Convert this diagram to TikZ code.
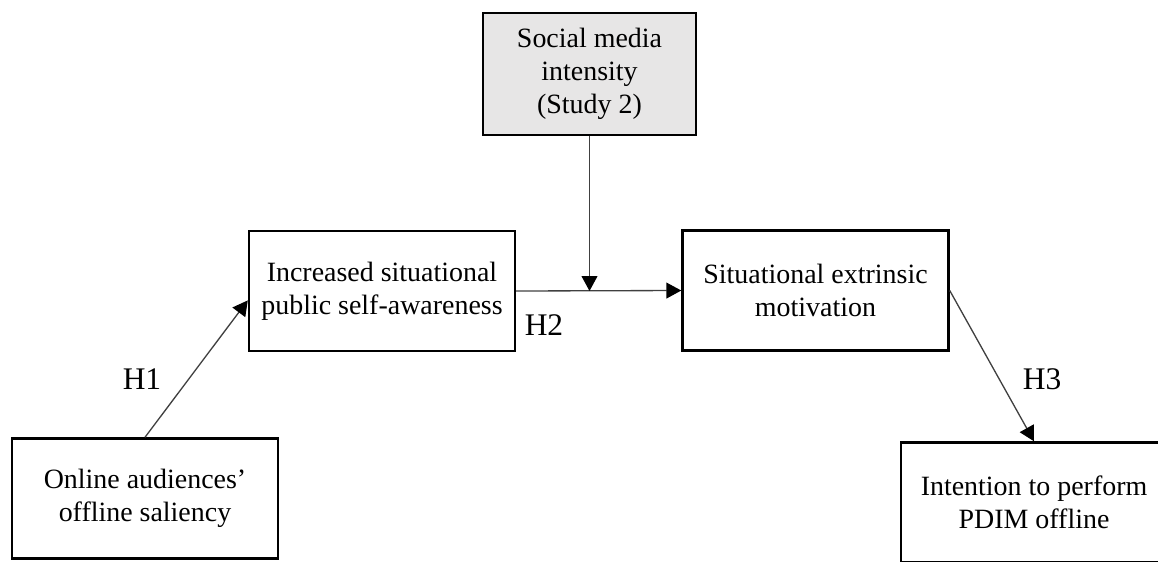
\documentclass[tikz,border=0pt]{standalone}
\usepackage{fontspec}
\setmainfont{Liberation Serif}
\usetikzlibrary{arrows.meta}
\definecolor{moderatorgray}{RGB}{231,230,230}
\tikzset{
    box/.style={draw,line width=1.4pt,minimum width=5.32cm,minimum height=2.4cm,align=center,font={\fontsize{15.9}{18.8}\selectfont}},
    link/.style={draw=black!75,line width=0.75pt,-{Triangle[length=8.5pt,width=9pt,color=black]}},
    hyp/.style={font={\fontsize{17.9}{21}\selectfont}}
}
\begin{document}
\begin{tikzpicture}[x=0.02cm,y=-0.02cm]
    \useasboundingbox (0,0) rectangle (1158,561);
    \clip (0,0) rectangle (1158,561);
    \node[box,fill=moderatorgray,minimum width=4.26cm,minimum height=2.44cm] (intensity) at (589.5,74) {Social media\\intensity\\(Study 2)};
    \node[box] (awareness) at (382,291) {Increased situational\\public self-awareness};
    \node[box] (motivation) at (815.5,290.5) {Situational extrinsic\\motivation};
    \node[box] (saliency) at (145,498.5) {Online audiences’\\offline saliency};
    \node[box] (intention) at (1034,502.5) {Intention to perform\\PDIM offline};
    \coordinate (junction) at (intensity.south |- awareness.east);

    \draw[link] (saliency.north) -- (awareness.184);
    \draw[link] (awareness.east) -- (motivation.west);
        \draw[link] (intensity.south) -- (junction);
    \draw[link] (motivation.east) -- (intention.north);

    \node[hyp] (h1) at (142,379) {H1};
    \node[hyp] (h2) at (544,325) {H2};
    \node[hyp] (h3) at (1042,379) {H3};
\end{tikzpicture}
\end{document}
